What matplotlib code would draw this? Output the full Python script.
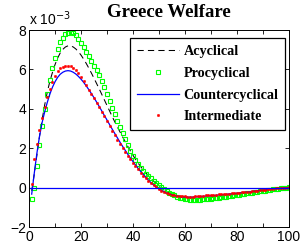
import matplotlib
matplotlib.use("Agg")
import matplotlib.pyplot as plt
import numpy as np

periods = list(range(1, 101))

acyclical = [
    -0.15, 0.70, 1.65, 2.60, 3.45, 4.20, 4.85, 5.40, 5.85, 6.25,
    6.58, 6.84, 7.02, 7.14, 7.20, 7.20, 7.14, 7.04, 6.90, 6.73,
    6.53, 6.31, 6.07, 5.82, 5.56, 5.29, 5.02, 4.74, 4.46, 4.18,
    3.90, 3.62, 3.35, 3.09, 2.84, 2.59, 2.35, 2.11, 1.88, 1.66,
    1.45, 1.26, 1.08, 0.91, 0.76, 0.61, 0.47, 0.34, 0.21, 0.09,
    -0.02, -0.11, -0.19, -0.26, -0.32, -0.37, -0.42, -0.45, -0.48, -0.50,
    -0.51, -0.52, -0.52, -0.52, -0.52, -0.51, -0.50, -0.49, -0.48, -0.47,
    -0.45, -0.44, -0.43, -0.41, -0.40, -0.38, -0.37, -0.35, -0.34, -0.32,
    -0.31, -0.29, -0.27, -0.26, -0.24, -0.22, -0.20, -0.19, -0.17, -0.15,
    -0.13, -0.12, -0.10, -0.08, -0.06, -0.05, -0.03, -0.01, 0.00, 0.02,
]

procyclical = [
    -0.58, 0.00, 1.10, 2.17, 3.15, 4.00, 4.75, 5.45, 6.05, 6.60,
    7.05, 7.40, 7.62, 7.78, 7.87, 7.89, 7.84, 7.73, 7.56, 7.36,
    7.13, 6.90, 6.67, 6.44, 6.20, 5.96, 5.70, 5.42, 5.10, 4.77,
    4.42, 4.07, 3.72, 3.38, 3.08, 2.78, 2.47, 2.17, 1.89, 1.63,
    1.41, 1.21, 1.03, 0.87, 0.72, 0.60, 0.48, 0.37, 0.25, 0.13,
    0.02, -0.08, -0.17, -0.25, -0.32, -0.38, -0.44, -0.49, -0.53, -0.56,
    -0.58, -0.60, -0.61, -0.61, -0.61, -0.60, -0.59, -0.58, -0.56, -0.55,
    -0.53, -0.51, -0.49, -0.48, -0.46, -0.44, -0.42, -0.40, -0.38, -0.36,
    -0.34, -0.32, -0.30, -0.28, -0.26, -0.24, -0.22, -0.20, -0.18, -0.16,
    -0.14, -0.12, -0.10, -0.08, -0.06, -0.05, -0.03, -0.01, 0.01, 0.03,
]

countercyclical = [
    -0.32, 0.75, 1.75, 2.60, 3.30, 3.85, 4.33, 4.75, 5.10, 5.38,
    5.60, 5.76, 5.86, 5.92, 5.94, 5.92, 5.86, 5.77, 5.65, 5.51,
    5.35, 5.17, 4.98, 4.78, 4.57, 4.35, 4.13, 3.90, 3.67, 3.44,
    3.21, 2.98, 2.76, 2.54, 2.32, 2.11, 1.91, 1.71, 1.52, 1.34,
    1.16, 0.99, 0.83, 0.68, 0.53, 0.39, 0.26, 0.14, 0.04, -0.05,
    -0.13, -0.20, -0.26, -0.31, -0.35, -0.39, -0.42, -0.44, -0.46, -0.47,
    -0.47, -0.47, -0.47, -0.46, -0.45, -0.44, -0.43, -0.42, -0.41, -0.40,
    -0.39, -0.38, -0.36, -0.35, -0.34, -0.33, -0.31, -0.30, -0.29, -0.27,
    -0.26, -0.24, -0.23, -0.21, -0.20, -0.18, -0.17, -0.15, -0.13, -0.12,
    -0.10, -0.09, -0.07, -0.06, -0.04, -0.03, -0.02, -0.01, 0.00, 0.01,
]

intermediate = [
    0.19, 1.45, 2.22, 2.93, 3.55, 4.10, 4.60, 5.02, 5.38, 5.67,
    5.90, 6.06, 6.15, 6.20, 6.20, 6.16, 6.08, 5.96, 5.80, 5.62,
    5.41, 5.19, 4.97, 4.75, 4.53, 4.31, 4.08, 3.85, 3.62, 3.38,
    3.14, 2.90, 2.67, 2.44, 2.22, 2.02, 1.82, 1.63, 1.45, 1.27,
    1.10, 0.93, 0.77, 0.62, 0.48, 0.35, 0.23, 0.12, 0.02, -0.07,
    -0.14, -0.20, -0.25, -0.30, -0.34, -0.37, -0.39, -0.41, -0.42, -0.43,
    -0.44, -0.44, -0.44, -0.43, -0.42, -0.41, -0.39, -0.38, -0.37, -0.36,
    -0.35, -0.34, -0.33, -0.32, -0.31, -0.30, -0.29, -0.28, -0.27, -0.26,
    -0.24, -0.23, -0.22, -0.20, -0.19, -0.17, -0.16, -0.14, -0.12, -0.10,
    -0.09, -0.07, -0.06, -0.04, -0.03, -0.02, -0.01, 0.00, 0.01, 0.02,
]

series_labels = ["Acyclical", "Procyclical", "Countercyclical", "Intermediate"]
title_text = "Greece Welfare"
x_ticks = [0, 20, 40, 60, 80, 100]
y_ticks = [-2, 0, 2, 4, 6, 8]

plt.rcParams["font.family"] = ["Liberation Sans", "DejaVu Sans"]

fig = plt.figure(figsize=(3.0, 2.46), dpi=100)
ax = fig.add_axes([0.097, 0.076, 0.865, 0.802])

x = np.array(periods)
h1, = ax.plot(x, acyclical, color="black", lw=0.75, dashes=(6, 4), label=series_labels[0])
h2, = ax.plot(x, procyclical, ls="none", marker="s", ms=2.8, mfc="none",
              mec="#00ff00", mew=0.8, label=series_labels[1])
h3, = ax.plot(x, countercyclical, color="#0000ff", lw=0.9, label=series_labels[2])
h4, = ax.plot(x, intermediate, ls="none", marker="o", ms=1.8, mfc="#ff0000",
              mec="#ff0000", mew=0.3, label=series_labels[3])
ax.axhline(0, color="#0000ff", lw=0.9)

ax.set_xlim(0, 100)
ax.set_ylim(-2, 8)
ax.set_xticks(x_ticks)
ax.set_xticks(list(range(10, 100, 20)), minor=True)
ax.set_yticks(y_ticks)
ax.set_xticklabels([str(v) for v in x_ticks], fontsize=10)
ax.set_yticklabels(["\u2212" + str(-v) if v < 0 else str(v) for v in y_ticks], fontsize=10)
ax.tick_params(direction="in", length=3, width=0.6, top=True, right=True, pad=2)
ax.tick_params(which="minor", direction="in", length=3, width=0.6, top=True, right=True)
for s in ax.spines.values():
    s.set_linewidth(0.7)

ax.text(0.0, 1.012, "x 10$^{-3}$", transform=ax.transAxes, fontsize=10,
        ha="left", va="bottom")
ax.text(0.54, 1.045, title_text, transform=ax.transAxes, fontsize=13.5,
        fontweight="bold", family="Liberation Serif", ha="center", va="bottom")

leg = ax.legend(handles=[h1, h2, h3, h4], loc="upper right",
                bbox_to_anchor=(0.988, 0.96), borderaxespad=0, numpoints=1,
                handlelength=3.0, handletextpad=0.3, labelspacing=0.62,
                borderpad=0.5, fancybox=False, framealpha=1,
                prop={"family": "Liberation Serif", "weight": "bold", "size": 10.2})
leg.get_frame().set_edgecolor("black")
leg.get_frame().set_linewidth(0.9)

fig.savefig("out.png", dpi=100)
